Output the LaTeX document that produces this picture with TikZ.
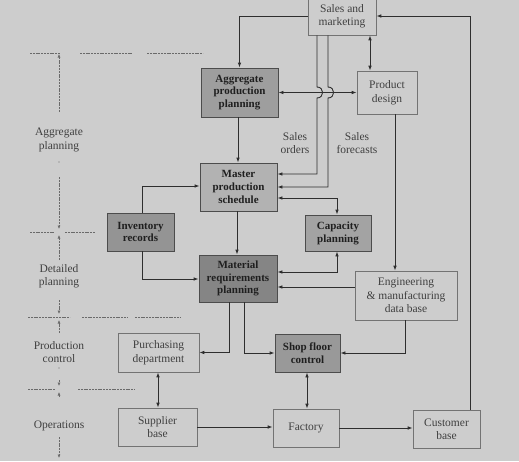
\documentclass[tikz,border=0pt]{standalone}
\usepackage{fontspec}
\setmainfont{Liberation Serif}
\usetikzlibrary{arrows.meta}
\definecolor{bg}{HTML}{CDCDCD}
\definecolor{ln}{HTML}{2E2E2E}
\definecolor{txt}{HTML}{404040}
\definecolor{axisc}{HTML}{6A6A6A}
\tikzset{
  plainbox/.style={draw=black!55, line width=0.6pt, fill=bg, text=txt, align=center, inner sep=0pt,
    font=\fontsize{11.5}{13.5}\selectfont},
  shadebox/.style={draw=black!70, line width=0.9pt, align=center, inner sep=0pt, text=black!88,
    font=\bfseries\fontsize{11}{12.8}\selectfont},
  lbl/.style={text=txt, align=center, inner sep=0pt, font=\fontsize{11.5}{13.5}\selectfont},
  conn/.style={draw=ln, line width=0.9pt, -{Latex[length=5pt,width=3.6pt]}},
  dconn/.style={draw=ln, line width=0.9pt, {Latex[length=5pt,width=3.6pt]}-{Latex[length=5pt,width=3.6pt]}},
  sep/.style={draw=axisc, line width=0.6pt, dash pattern=on 2pt off 0.8pt},
  axisline/.style={draw=axisc, line width=0.6pt, dash pattern=on 2pt off 0.8pt, -{Latex[length=3.5pt,width=3pt]}},
}
\begin{document}
\begin{tikzpicture}[x=1pt,y=-1pt]
\fill[bg] (0,0) rectangle (519,461);
\useasboundingbox (0,0) rectangle (519,461);

% boxes
\node[plainbox, minimum width=68pt, minimum height=38pt] (sm) at (342,16) {Sales and\\marketing};
\node[shadebox, fill=black!38, minimum width=77pt, minimum height=49pt] (agg) at (239.5,92.5) {Aggregate\\production\\planning};
\node[plainbox, minimum width=60pt, minimum height=43pt] (pd) at (387,92.5) {Product\\design};
\node[shadebox, fill=black!30, minimum width=77pt, minimum height=48pt] (mps) at (238.5,187) {Master\\production\\schedule};
\node[shadebox, fill=black!36, minimum width=66pt, minimum height=36pt] (cap) at (338,233) {Capacity\\planning};
\node[shadebox, fill=black!42, minimum width=67pt, minimum height=38pt] (inv) at (140.5,232) {Inventory\\records};
\node[shadebox, fill=black!48, minimum width=78pt, minimum height=47pt] (mrp) at (238,278.5) {Material\\requirements\\planning};
\node[plainbox, minimum width=102pt, minimum height=49pt] (eng) at (406,295.5) {Engineering\\\&~manufacturing\\data base};
\node[plainbox, minimum width=81pt, minimum height=39pt] (pur) at (158.5,352.5) {Purchasing\\department};
\node[shadebox, fill=black!40, minimum width=65pt, minimum height=38pt] (sfc) at (307.5,353) {Shop floor\\control};
\node[plainbox, minimum width=79pt, minimum height=38pt] (sup) at (157.5,427) {Supplier\\base};
\node[plainbox, minimum width=66pt, minimum height=38pt] (fac) at (306,428) {Factory};
\node[plainbox, minimum width=67pt, minimum height=38pt] (cust) at (446.5,429) {Customer\\base};

% labels
\node[lbl] (so) at (295,143) {Sales\\orders};
\node[lbl] (sf) at (357,143) {Sales\\forecasts};
\node[lbl] (la) at (59,140) {Aggregate\\planning};
\node[lbl] (ld) at (59,276) {Detailed\\planning};
\node[lbl] (lp) at (59,352) {Production\\control};
\node[lbl] (lo) at (59,426) {Operations};

% connectors
\draw[conn] (sm.west) -| (agg.north);
\draw[conn] ([xshift=23.5pt]cust.north) |- (sm.east);
\draw[dconn] (sm.south -| 370,0) -- (pd.north -| 370,0);
\draw[dconn] (agg.east) -- (pd.west);
\draw[conn] (sm.south -| 317,0) -- (317,87) .. controls (324.5,87) and (324.5,98) .. (317,98) -- (317,174) -- (mps.east |- 0,174);
\draw[conn] (sm.south -| 328,0) -- (328,87) .. controls (335.5,87) and (335.5,98) .. (328,98) -- (328,187) -- (mps.east |- 0,187);
\draw[conn] (agg.south -| 238,0) -- (mps.north -| 238,0);
\draw[dconn] (mps.east |- 0,198) -| (cap.north -| 337,0);
\draw[conn] (mps.south -| 237,0) -- (mrp.north -| 237,0);
\draw[dconn] (cap.south -| 337,0) |- (mrp.east |- 0,272);
\draw[conn] (pd.south -| 395,0) -- (eng.north -| 395,0);
\draw[conn] (eng.west |- 0,287) -- (mrp.east |- 0,287);
\draw[conn] (eng.south -| 405,0) |- (sfc.east);
\draw[conn] (inv.north -| 142,0) |- (mps.west |- 0,186);
\draw[conn] (inv.south -| 142,0) |- (mrp.west |- 0,279);
\draw[conn] (mrp.south -| 229,0) |- (pur.east);
\draw[conn] (mrp.south -| 244,0) |- (sfc.west);
\draw[dconn] (pur.south -| 158,0) -- (sup.north -| 158,0);
\draw[dconn] (sfc.south -| 307,0) -- (fac.north -| 307,0);
\draw[conn] (sup.east |- 0,427) -- (fac.west |- 0,427);
\draw[conn] (fac.east |- 0,428) -- (cust.west |- 0,428);

% separators
\draw[sep] (30,53) -- (60,53);
\draw[sep] (80,53) -- (133,53);
\draw[sep] (147,53) -- (203,53);
\draw[sep] (30,232) -- (55,232);
\draw[sep] (65,232) -- (95,232);
\draw[sep] (28,317) -- (70,317);
\draw[sep] (82,317) -- (128,317);
\draw[sep] (135,317) -- (180,317);
\draw[sep] (28,389) -- (55,389);
\draw[sep] (78,389) -- (135,389);

% axis
\draw[axisline] (59,112) -- (59,54);
\draw[axisline] (59,177) -- (59,229);
\draw[axisline] (59,260) -- (59,235);
\draw[axisline] (59,300) -- (59,314);
\draw[axisline] (59,333) -- (59,320);
\draw[axisline] (59,380) -- (59,386);
\draw[axisline] (59,397) -- (59,392);
\draw[axisline] (59,437) -- (59,458);
\fill[axisc] (59,162) circle (0.6pt);
\fill[axisc] (59,368) circle (0.6pt);
\end{tikzpicture}
\end{document}
